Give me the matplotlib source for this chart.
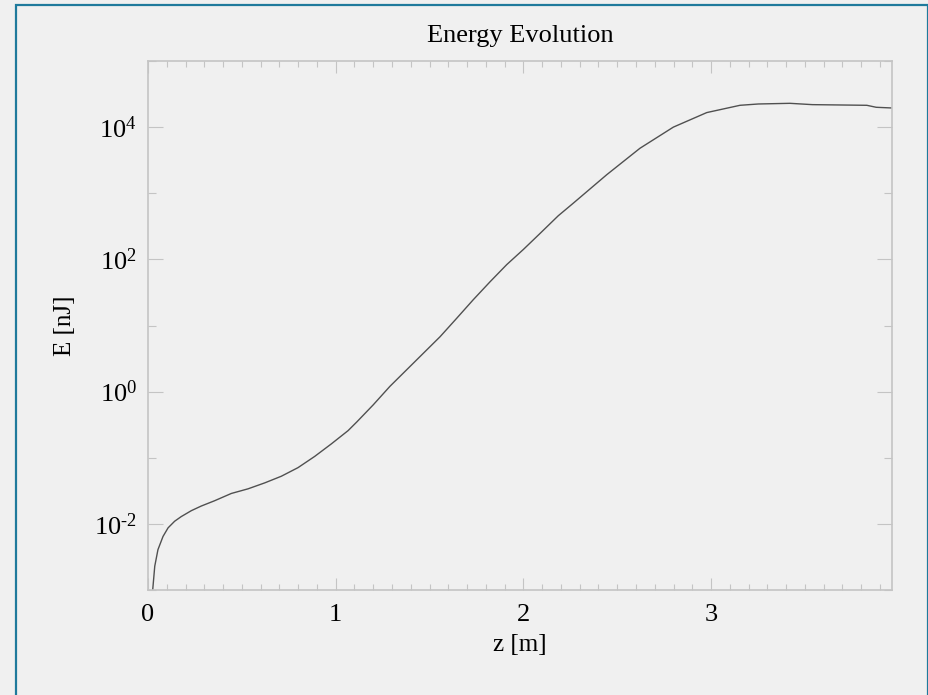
import matplotlib
matplotlib.use('Agg')
import numpy as np
from matplotlib import pyplot as plt
from matplotlib.patches import Rectangle

plt.rcParams['font.family'] = ['Liberation Serif', 'DejaVu Serif']
plt.rcParams['mathtext.fontset'] = 'custom'
plt.rcParams['mathtext.rm'] = 'Liberation Serif'
plt.rcParams['mathtext.it'] = 'Liberation Serif:italic'

# distance along z [m] and log10 of pulse energy [nJ]
z_m = [0.025, 0.036, 0.053, 0.080, 0.107, 0.142, 0.177, 0.231, 0.284, 0.355,
       0.444, 0.533, 0.622, 0.710, 0.799, 0.888, 0.977, 1.066, 1.112, 1.200,
       1.289, 1.378, 1.467, 1.556, 1.645, 1.733, 1.822, 1.911, 2.000, 2.088,
       2.186, 2.266, 2.444, 2.621, 2.799, 2.977, 3.154, 3.252, 3.42, 3.54,
       3.83, 3.88, 3.96]
log_e = [-3.00, -2.64, -2.39, -2.19, -2.06, -1.96, -1.89, -1.80, -1.73, -1.65,
         -1.54, -1.47, -1.38, -1.28, -1.15, -0.98, -0.79, -0.59, -0.46, -0.20,
         0.08, 0.33, 0.58, 0.83, 1.11, 1.39, 1.66, 1.92, 2.15, 2.39,
         2.66, 2.85, 3.28, 3.68, 4.00, 4.22, 4.33, 4.35, 4.36, 4.34,
         4.33, 4.30, 4.29]

y_major = [1e-2, 1e0, 1e2, 1e4]
y_labels = ['$10^{\u20102}$', r'$10^{0}$', r'$10^{2}$', r'$10^{4}$']
y_minor = [1e-3, 1e-1, 1e1, 1e3, 1e5]
x_major = [0, 1, 2, 3]

energy = 10 ** np.array(log_e)

bg = '#f0f0f0'
grey = '#c4c4c4'

fig = plt.figure(figsize=(9.29, 6.95), dpi=100, facecolor=bg)
ax = fig.add_axes([148 / 929, 1 - 590 / 695, (892 - 148) / 929, (590 - 61) / 695])
ax.set_facecolor(bg)

ax.plot(z_m, energy, color='#505050', linewidth=1.0)

ax.set_yscale('log')
ax.set_ylim(1e-3, 1e5)
ax.set_xlim(0, 3.964)

ax.set_yticks(y_major, labels=y_labels)
ax.set_yticks(y_minor, minor=True)
ax.set_xticks(x_major, labels=[str(v) for v in x_major])
ax.set_xticks(np.arange(0.1, 3.95, 0.1), minor=True)
ax.yaxis.set_minor_formatter(plt.NullFormatter())

ax.tick_params(axis='y', which='major', direction='in', length=10.8, width=0.8,
               color=grey, left=True, right=True, labelsize=19, pad=8)
ax.tick_params(axis='y', which='minor', direction='in', length=5.8, width=0.8,
               color=grey, left=True, right=True)
ax.tick_params(axis='x', which='major', direction='in', length=8.6, width=0.8,
               color=grey, bottom=True, top=True, labelsize=19, pad=10)
ax.tick_params(axis='x', which='minor', direction='in', length=4.3, width=0.8,
               color=grey, bottom=True, top=True)

for s in ax.spines.values():
    s.set_color(grey)
    s.set_linewidth(1.2)

ax.set_xlabel('z [m]', fontsize=18, labelpad=6)
ax.set_ylabel('E [nJ]', fontsize=18, labelpad=13)
fig.text(520 / 929, 1 - 36 / 695, 'Energy Evolution', fontsize=19,
         ha='center', va='center')

# blue frame around the panel
fig.patches.append(Rectangle((16 / 929, -0.05), (928 - 16) / 929, 1.05 - 5 / 695,
                             transform=fig.transFigure, fill=False,
                             edgecolor='#1f7a9c', linewidth=1.6))

fig.savefig('out.png', dpi=100, facecolor=bg)
